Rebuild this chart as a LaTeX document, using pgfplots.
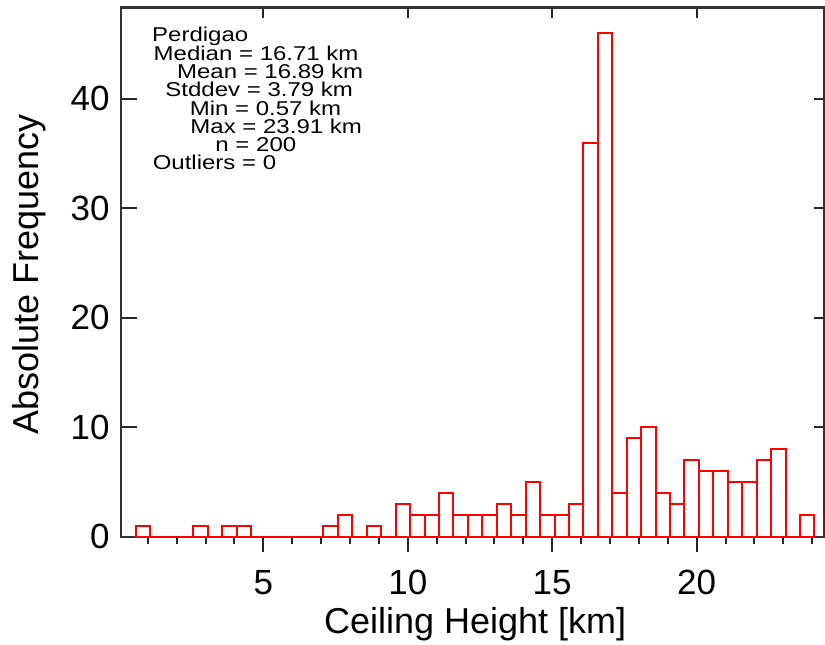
\documentclass[border=0pt]{standalone}
\usepackage{pgfplots}
\usepackage{pgfplotstable}
\pgfplotsset{compat=1.18}
\usepackage{graphicx}
\usepackage{fontspec}
\setmainfont{Liberation Sans}

% bin centre (bin width 0.5 km, first edge 0.58 km), count
\pgfplotstableread{
mid   count
0.83  1
1.33  0
1.83  0
2.33  0
2.83  1
3.33  0
3.83  1
4.33  1
4.83  0
5.33  0
5.83  0
6.33  0
6.83  0
7.33  1
7.83  2
8.33  0
8.83  1
9.33  0
9.83  3
10.33 2
10.83 2
11.33 4
11.83 2
12.33 2
12.83 2
13.33 3
13.83 2
14.33 5
14.83 2
15.33 2
15.83 3
16.33 36
16.83 46
17.33 4
17.83 9
18.33 10
18.83 4
19.33 3
19.83 7
20.33 6
20.83 6
21.33 5
21.83 5
22.33 7
22.83 8
23.33 0
23.83 2
}\hist

\newcommand{\stat}[3]{%
  \node[anchor=base west, inner sep=0pt, font=\fontsize{10}{12}\selectfont]
    at (axis cs:#1,#2) {\scalebox{1.2}[1]{#3}};}

\begin{document}
\begin{tikzpicture}
\pgfplotsset{
  every axis/.append style={
    scale only axis,
    width=351.65pt, height=264.6pt,
    xmin=0.06, xmax=24.41, ymin=0, ymax=48.33,
    axis line style={draw=black!80, line width=1pt},
    every tick/.style={black!85, line width=1pt},
    tick label style={font=\fontsize{17.5}{20}\selectfont},
    /pgf/number format/assume math mode=true,
  },
}

% left y ticks, inside, with labels
\begin{axis}[
  xtick=\empty,
  ytick={0,10,20,30,40},
  ytick pos=left,
  tick align=inside,
  major tick length=8pt,
  yticklabel style={anchor=east, inner sep=0pt, xshift=-5.35pt},
]
\end{axis}

% short inside ticks on top and right
\begin{axis}[
  xtick={5,10,15,20},
  ytick={0,10,20,30,40},
  xtick pos=right,
  ytick pos=right,
  tick align=inside,
  major tick length=5pt,
  xticklabels={}, yticklabels={},
]
\end{axis}

% histogram, bottom ticks outside, labels
\begin{axis}[
  clip=false,
  xtick={5,10,15,20},
  minor xtick={1,...,24},
  xtick pos=left,
  ytick=\empty,
  tick align=outside,
  major tick length=7.5pt,
  minor tick length=3.5pt,
  xticklabel style={anchor=north, inner sep=0pt, yshift=-9pt},
  xlabel={Ceiling Height [km]},
  ylabel={Absolute Frequency},
  label style={font=\fontsize{18}{21}\selectfont},
  xlabel style={at={(rel axis cs:0.504,0)}, anchor=base, yshift=-48.15pt},
  ylabel style={at={(rel axis cs:0,0.496)}, anchor=base, yshift=41.2pt},
]
\coordinate (sw) at (rel axis cs:0,0);
\coordinate (ne) at (rel axis cs:1,1);
\addplot[ybar, bar width=0.5, bar shift=0pt, draw=red, fill=none, line width=1pt]
  table[x=mid, y=count] {\hist};
\stat{1.136}{45.21}{Perdigao}
\stat{1.19}{43.53}{Median = 16.71 km}
\stat{2.0}{41.86}{Mean = 16.89 km}
\stat{1.596}{40.18}{Stddev = 3.79 km}
\stat{2.438}{38.51}{Min = 0.57 km}
\stat{2.462}{36.84}{Max = 23.91 km}
\stat{3.328}{35.16}{n = 200}
\stat{1.157}{33.49}{Outliers = 0}
\end{axis}

\pgfresetboundingbox
\path ([shift={(-60.35pt,-53.65pt)}]sw) rectangle ([shift={(0.5pt,3.75pt)}]ne);
\end{tikzpicture}
\end{document}
